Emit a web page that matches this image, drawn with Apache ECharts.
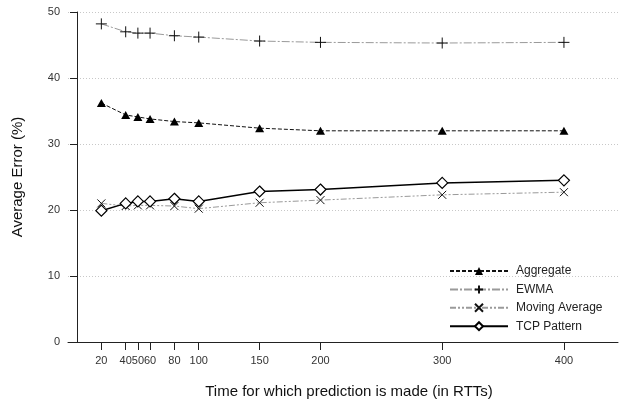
<!DOCTYPE html>
<html>
<head>
<meta charset="utf-8">
<script src="https://cdn.jsdelivr.net/npm/echarts@6/dist/echarts.min.js"></script>
<style>html,body{margin:0;padding:0;background:#fff;}#c{width:619px;height:404px;}</style>
</head>
<body>
<div id="c"></div>
<script>
var xValues = [20, 40, 50, 60, 80, 100, 150, 200, 300, 400];
var aggregate = [36.2, 34.4, 34.1, 33.8, 33.4, 33.2, 32.4, 32.0, 32.0, 32.0];
var ewma = [48.2, 47.0, 46.8, 46.8, 46.4, 46.2, 45.6, 45.4, 45.3, 45.4];
var movingAverage = [21.0, 20.6, 20.7, 20.7, 20.6, 20.2, 21.1, 21.5, 22.3, 22.7];
var tcpPattern = [19.9, 21.0, 21.3, 21.3, 21.7, 21.3, 22.8, 23.1, 24.1, 24.5];
var xTicks = [20, 40, 50, 60, 80, 100, 150, 200, 300, 400];
var seriesNames = ['Aggregate', 'EWMA', 'Moving Average', 'TCP Pattern'];

function pairs(ys) { return xValues.map(function (x, i) { return [x, ys[i]]; }); }

var FONT = '"Liberation Sans", Arial, Helvetica, sans-serif';
var plusPath = 'path://M0,-1L0,1M-1,0L1,0';
var crossPath = 'path://M-1,-1L1,1M-1,1L1,-1';

var chart = echarts.init(document.getElementById('c'), null, { renderer: 'canvas' });
chart.setOption({
  animation: false,
  backgroundColor: '#fff',
  textStyle: { fontFamily: FONT },
  grid: { left: 68, right: 1, top: 12, bottom: 62, containLabel: false, outerBoundsMode: 'none' },
  legend: {
    orient: 'vertical',
    left: 449,
    top: 265,
    padding: 0,
    itemWidth: 58,
    itemHeight: 10,
    itemGap: 6.4,
    textStyle: { fontFamily: FONT, fontSize: 12, color: '#222', padding: [0, 0, 0, 3] },
    data: seriesNames
  },
  xAxis: {
    type: 'value',
    min: -7.4,
    max: 444.4,
    name: 'Time for which prediction is made (in RTTs)',
    nameLocation: 'middle',
    nameGap: 42,
    nameTextStyle: { fontFamily: FONT, fontSize: 15, color: '#111', padding: [0, 0, 0, 12] },
    axisLine: { show: true, onZero: false, lineStyle: { color: '#222', width: 1 } },
    axisTick: { show: true, length: 8, customValues: xTicks, lineStyle: { color: '#222' } },
    axisLabel: { customValues: xTicks, margin: 13, fontSize: 11, color: '#333', fontFamily: FONT },
    splitLine: { show: false }
  },
  yAxis: {
    type: 'value',
    min: 0,
    max: 50,
    interval: 10,
    name: 'Average Error (%)',
    nameLocation: 'middle',
    nameGap: 43,
    nameTextStyle: { fontFamily: FONT, fontSize: 15, color: '#111' },
    axisLine: { show: true, onZero: true, lineStyle: { color: '#222', width: 1 } },
    axisTick: { show: true, length: 7, lineStyle: { color: '#222' } },
    axisLabel: { margin: 8, fontSize: 11, color: '#333', fontFamily: FONT },
    splitLine: { show: true, lineStyle: { color: '#c8c8c8', type: [1, 2], width: 1 } }
  },
  series: [
    {
      name: 'Aggregate', type: 'line', data: pairs(aggregate),
      symbol: 'triangle', symbolSize: [9, 8],
      lineStyle: { color: '#111', width: 1, type: [4, 2] },
      itemStyle: { color: '#000', borderColor: '#000', borderWidth: 0 }
    },
    {
      name: 'EWMA', type: 'line', data: pairs(ewma),
      symbol: plusPath, symbolSize: 11,
      lineStyle: { color: '#9a9a9a', width: 1, type: [8, 2, 2, 2] },
      itemStyle: { color: 'rgba(0,0,0,0)', borderColor: '#111', borderWidth: 1 }
    },
    {
      name: 'Moving Average', type: 'line', data: pairs(movingAverage),
      symbol: crossPath, symbolSize: 8,
      lineStyle: { color: '#9a9a9a', width: 1, type: [6, 2, 2, 2, 2, 2] },
      itemStyle: { color: 'rgba(0,0,0,0)', borderColor: '#111', borderWidth: 1 }
    },
    {
      name: 'TCP Pattern', type: 'line', data: pairs(tcpPattern),
      symbol: 'diamond', symbolSize: [11, 11],
      lineStyle: { color: '#000', width: 1.5, type: 'solid' },
      itemStyle: { color: '#fff', borderColor: '#000', borderWidth: 1.2 }
    }
  ]
});
</script>
</body>
</html>
